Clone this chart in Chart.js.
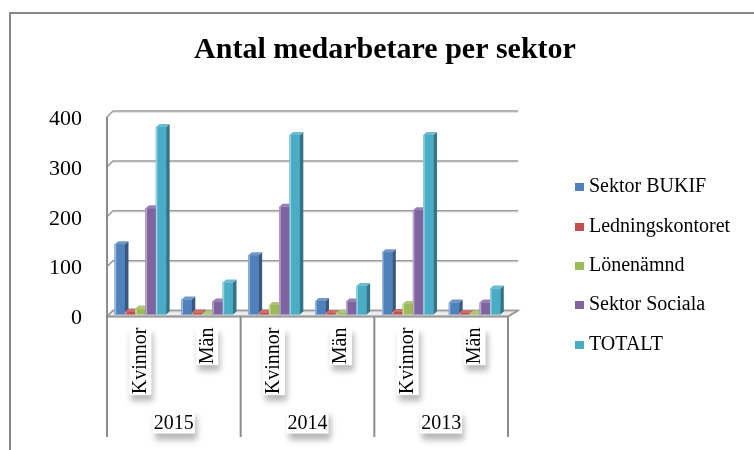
<!DOCTYPE html>
<html>
<head>
<meta charset="utf-8">
<script src="https://cdn.jsdelivr.net/npm/chart.js@4.4.0/dist/chart.umd.min.js"></script>
<style>
  html, body { margin: 0; padding: 0; background: #fff; }
  #wrap { position: relative; width: 754px; height: 450px; overflow: hidden; }
  #chart { position: absolute; left: 0; top: 0; }
  #legend { position: absolute; left: 575px; top: 166px; font-family: 'Liberation Serif', serif; font-size: 20px; color: #000; }
  #legend .item { height: 39.4px; display: flex; align-items: center; white-space: nowrap; }
  #legend .box { width: 9px; height: 8px; margin-right: 5px; margin-top: 3px; }
</style>
</head>
<body>
<div id="wrap">
  <canvas id="chart" width="754" height="450"></canvas>
  <div id="legend"></div>
</div>
<script>
// Data
const years = ['2015', '2014', '2013'];
const categories = ['Kvinnor', 'Män', 'Kvinnor', 'Män', 'Kvinnor', 'Män'];
const seriesNames = ['Sektor BUKIF', 'Ledningskontoret', 'Lönenämnd', 'Sektor Sociala', 'TOTALT'];
const bukif = [141, 30, 119, 27, 125, 24];
const ledning = [6, 4, 4, 3, 5, 3];
const lonenamnd = [12, 2, 19, 3, 21, 2];
const sociala = [213, 26, 216, 26, 209, 24];
const totalt = [376, 64, 360, 57, 360, 52];
const yTicks = [0, 100, 200, 300, 400];

const colors = ['#4F81BD', '#C0504D', '#9BBB59', '#8064A2', '#4BACC6'];
const serif = "'Liberation Serif', 'Times New Roman', serif";

// mix a hex colour toward white (amt > 0) or black (amt < 0)
function shade(hex, amt) {
    const n = parseInt(hex.slice(1), 16);
    const t = amt < 0 ? 0 : 255, p = Math.abs(amt);
    const c = [n >> 16, (n >> 8) & 255, n & 255].map(v => Math.round(v + (t - v) * p));
    return `rgb(${c[0]},${c[1]},${c[2]})`;
}

const DEPTH_L = 6, DEPTH_R = 10, DEPTH_Y = 6;   // wall/floor depth
const BAR_DX = 3.5, BAR_DY = 3;                 // bar depth

// Outer frame + soft shadows behind the axis labels
const framePlugin = {
    id: 'frame',
    beforeDraw(chart) {
        const { ctx, chartArea: a, scales } = chart;
        ctx.save();
        ctx.strokeStyle = '#878787';
        ctx.lineWidth = 2;
        ctx.strokeRect(10, 13, 900, 600);

        ctx.fillStyle = '#fff';
        ctx.shadowColor = 'rgba(0,0,0,0.28)';
        ctx.shadowBlur = 6;
        ctx.shadowOffsetX = 2;
        ctx.shadowOffsetY = 6;
        ctx.font = '20px ' + serif;
        const xs = scales.x;
        categories.forEach((lab, i) => {
            const px = xs.getPixelForTick(i);
            const w = ctx.measureText(lab).width;
            ctx.fillRect(px - 11, a.bottom + 12, 22, w + 2);
        });
        const ys = scales.year;
        years.forEach((lab, i) => {
            const px = ys.getPixelForTick(i);
            const w = ctx.measureText(lab).width;
            ctx.fillRect(px - w / 2 - 1, ys.top + 15, w + 2, 24);
        });
        ctx.restore();
    }
};

// Back wall gridlines, left wall and floor
const wallsPlugin = {
    id: 'walls',
    beforeDatasetsDraw(chart) {
        const { ctx, chartArea: a, scales: { y } } = chart;
        ctx.save();
        const fy = a.bottom + 2;
        // floor
        ctx.fillStyle = '#ececec';
        ctx.beginPath();
        ctx.moveTo(a.left, fy);
        ctx.lineTo(a.right, fy);
        ctx.lineTo(a.right + DEPTH_R, fy - DEPTH_Y);
        ctx.lineTo(a.left + DEPTH_L, fy - DEPTH_Y);
        ctx.closePath();
        ctx.fill();
        ctx.strokeStyle = '#a0a0a0';
        ctx.lineWidth = 1.5;
        ctx.stroke();

        // gridlines on the back wall with stubs on the left wall
        yTicks.forEach(v => {
            const py = y.getPixelForValue(v) + 2;
            ctx.strokeStyle = '#e4e4e4';
            ctx.lineWidth = 1;
            ctx.beginPath();
            ctx.moveTo(a.left + DEPTH_L, py - DEPTH_Y + 1.5);
            ctx.lineTo(a.right + DEPTH_R, py - DEPTH_Y + 1.5);
            ctx.stroke();
            ctx.strokeStyle = '#9a9a9a';
            ctx.lineWidth = 1.5;
            ctx.beginPath();
            ctx.moveTo(a.left, py);
            ctx.lineTo(a.left + DEPTH_L, py - DEPTH_Y);
            ctx.lineTo(a.right + DEPTH_R, py - DEPTH_Y);
            ctx.stroke();
        });
        // front edge of the floor
        ctx.strokeStyle = '#9a9a9a';
        ctx.lineWidth = 2;
        ctx.beginPath();
        ctx.moveTo(a.left, fy);
        ctx.lineTo(a.right, fy);
        ctx.lineTo(a.right + DEPTH_R, fy - DEPTH_Y);
        ctx.stroke();
        ctx.restore();
    }
};

// Redraw every column left to right with its front, side and top faces
const bar3dPlugin = {
    id: 'bar3d',
    afterDatasetsDraw(chart) {
        const ctx = chart.ctx;
        const bars = [];
        chart.data.datasets.forEach((ds, di) => {
            chart.getDatasetMeta(di).data.forEach(el => bars.push({ el, color: colors[di] }));
        });
        bars.sort((p, q) => p.el.x - q.el.x);
        ctx.save();
        bars.forEach(({ el, color }) => {
            const l = el.x - el.width / 2, r = el.x + el.width / 2;
            const t = el.y, b = el.base;
            ctx.fillStyle = color;
            ctx.fillRect(l, t, r - l, b - t);
            ctx.fillStyle = shade(color, 0.45);
            ctx.fillRect(l, t, 1.5, b - t);
            ctx.fillStyle = shade(color, -0.32);
            ctx.beginPath();
            ctx.moveTo(r, t);
            ctx.lineTo(r + BAR_DX, t - BAR_DY);
            ctx.lineTo(r + BAR_DX, b - BAR_DY);
            ctx.lineTo(r, b);
            ctx.closePath();
            ctx.fill();
            ctx.fillStyle = shade(color, 0.18);
            ctx.beginPath();
            ctx.moveTo(l, t);
            ctx.lineTo(l + BAR_DX, t - BAR_DY);
            ctx.lineTo(r + BAR_DX, t - BAR_DY);
            ctx.lineTo(r, t);
            ctx.closePath();
            ctx.fill();
        });
        ctx.restore();
    }
};

// Left wall edge and the year separators under the axis
const separatorsPlugin = {
    id: 'separators',
    afterDraw(chart) {
        const { ctx, chartArea: a, scales: { y } } = chart;
        ctx.save();
        ctx.strokeStyle = '#8c8c8c';
        ctx.lineWidth = 2;
        ctx.beginPath();
        ctx.moveTo(a.left, y.getPixelForValue(400) + 2);
        ctx.lineTo(a.left, a.bottom + 2);
        for (let k = 0; k <= years.length; k++) {
            const px = a.left + k * (a.right - a.left) / years.length;
            ctx.moveTo(px, a.bottom + 2);
            ctx.lineTo(px, 437);
        }
        ctx.stroke();
        ctx.restore();
    }
};

const seriesData = [bukif, ledning, lonenamnd, sociala, totalt];

new Chart(document.getElementById('chart'), {
    type: 'bar',
    data: {
        labels: categories,
        datasets: seriesNames.map((name, i) => ({
            label: name,
            data: seriesData[i],
            backgroundColor: colors[i],
            borderWidth: 0,
            barPercentage: 1.0,
            categoryPercentage: 0.77
        }))
    },
    options: {
        responsive: false,
        animation: false,
        layout: { padding: { left: 16, top: 0, right: 0, bottom: 13.5 } },
        scales: {
            y: {
                min: 0,
                max: 400,
                afterFit: s => { s.width = 91; },
                grid: { display: false, drawTicks: false },
                border: { display: false },
                ticks: {
                    stepSize: 100,
                    padding: 25,
                    labelOffset: 4,
                    color: '#000',
                    font: { family: serif, size: 22 }
                }
            },
            spacer: {
                type: 'linear',
                position: 'right',
                afterFit: s => { s.width = 246; },
                grid: { display: false },
                border: { display: false },
                ticks: { display: false }
            },
            x: {
                afterFit: s => { s.height = 80; },
                grid: { display: false, drawTicks: false },
                border: { display: false },
                ticks: {
                    autoSkip: false,
                    minRotation: 90,
                    maxRotation: 90,
                    padding: 13,
                    color: '#000',
                    font: { family: serif, size: 20 }
                }
            },
            year: {
                type: 'category',
                labels: years,
                position: 'bottom',
                offset: true,
                afterFit: s => { s.height = 42; },
                grid: { display: false, drawTicks: false },
                border: { display: false },
                ticks: {
                    padding: 17,
                    color: '#000',
                    font: { family: serif, size: 20 }
                }
            }
        },
        plugins: {
            legend: { display: false },
            tooltip: { enabled: false },
            title: {
                display: true,
                text: 'Antal medarbetare per sektor',
                color: '#000',
                font: { family: serif, size: 30, weight: 'bold' },
                padding: { top: 32, bottom: 47 }
            }
        }
    },
    plugins: [framePlugin, wallsPlugin, bar3dPlugin, separatorsPlugin]
});

// HTML legend built from the series names
const legendEl = document.getElementById('legend');
seriesNames.forEach((name, i) => {
    const item = document.createElement('div');
    item.className = 'item';
    item.innerHTML = `<span class="box" style="background:${colors[i]}"></span><span>${name}</span>`;
    legendEl.appendChild(item);
});
</script>
</body>
</html>
